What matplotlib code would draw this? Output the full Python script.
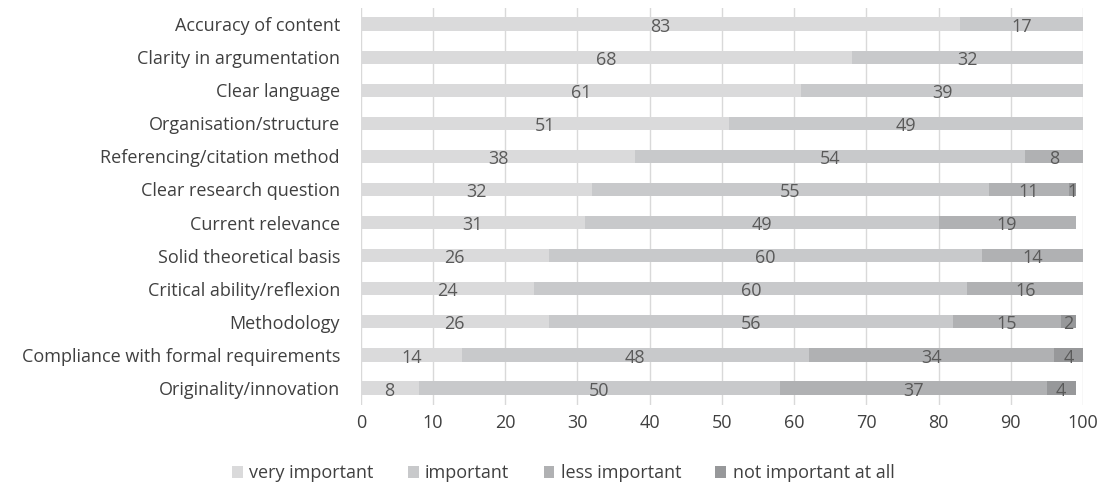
import numpy as np
import matplotlib.pyplot as plt

plt.rcParams['font.family'] = ['Open Sans', 'DejaVu Sans']

categories = [
    "Accuracy of content",
    "Clarity in argumentation",
    "Clear language",
    "Organisation/structure",
    "Referencing/citation method",
    "Clear research question",
    "Current relevance",
    "Solid theoretical basis",
    "Critical ability/reflexion",
    "Methodology",
    "Compliance with formal requirements",
    "Originality/innovation",
]
very_important = [83, 68, 61, 51, 38, 32, 31, 26, 24, 26, 14, 8]
important = [17, 32, 39, 49, 54, 55, 49, 60, 60, 56, 48, 50]
less_important = [0, 0, 0, 0, 8, 11, 19, 14, 16, 15, 34, 37]
not_important = [0, 0, 0, 0, 0, 1, 0, 0, 0, 2, 4, 4]

series = [
    ("very important", very_important, "#DADADB"),
    ("important", important, "#C8C9CB"),
    ("less important", less_important, "#B0B1B3"),
    ("not important at all", not_important, "#97989A"),
]

fig = plt.figure(figsize=(11, 4.88), dpi=100)
ax = fig.add_axes([0.328, 0.171, 0.6565, 0.8136])

y = np.arange(len(categories))
left = np.zeros(len(categories))
for name, vals, color in series:
    vals = np.array(vals, dtype=float)
    ax.barh(y, vals, left=left, height=0.4, color=color, label=name, zorder=2)
    for yi, l, v in zip(y, left, vals):
        if v > 0:
            ax.text(l + v / 2, yi + 0.08, f"{v:g}", ha="center", va="center",
                    fontsize=13, color="#595959", zorder=3)
    left += vals

ax.set_xlim(0, 100)
ax.set_ylim(len(categories) - 0.5, -0.5)
ax.set_xticks(np.arange(0, 101, 10))
ax.set_yticks(y)
ax.set_yticklabels(categories)
ax.tick_params(axis="both", length=0, labelsize=13, colors="#404040")
ax.tick_params(axis="x", pad=7)
ax.tick_params(axis="y", pad=15)
ax.grid(axis="x", color="#D9D9D9", linewidth=1, zorder=0)
for s in ax.spines.values():
    s.set_visible(False)

fig.legend(loc="center", bbox_to_anchor=(0.512, 0.03), ncol=4, frameon=False,
           fontsize=13, handlelength=0.6, handleheight=0.6, handletextpad=0.35,
           columnspacing=1.9, labelcolor="#404040")

fig.savefig("out.png", dpi=100)
